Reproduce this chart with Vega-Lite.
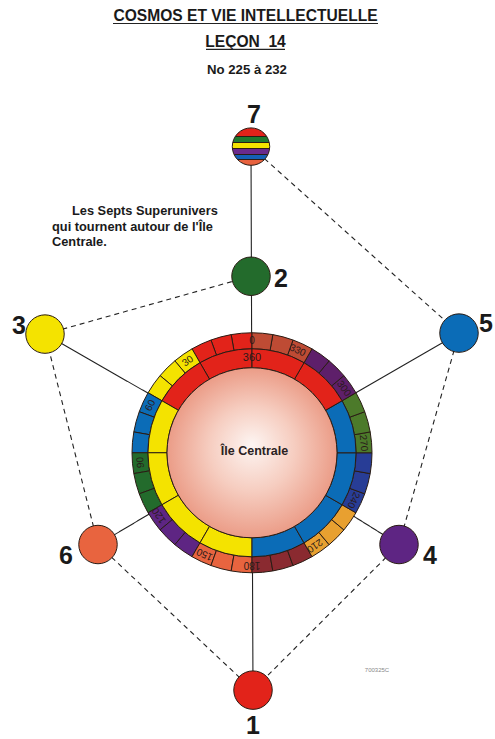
{
  "$schema": "https://vega.github.io/schema/vega-lite/v6.json",
  "width": 495,
  "height": 739,
  "autosize": {"type": "fit", "contains": "padding"},
  "padding": 0,
  "background": "white",
  "config": {"view": {"stroke": null}, "font": "Liberation Sans"},
  "datasets": {
    "edges": [
      {"kind": "tirets", "x": 251, "y": 147, "x2": 459, "y2": 334},
      {"kind": "tirets", "x": 459, "y": 334, "x2": 399, "y2": 546},
      {"kind": "tirets", "x": 399, "y": 546, "x2": 253, "y2": 692},
      {"kind": "tirets", "x": 253, "y": 692, "x2": 98, "y2": 546},
      {"kind": "tirets", "x": 98, "y": 546, "x2": 45, "y2": 335},
      {"kind": "tirets", "x": 45, "y": 335, "x2": 251, "y2": 277},
      {"kind": "plein", "x": 252, "y": 454, "x2": 251, "y2": 147},
      {"kind": "plein", "x": 252, "y": 454, "x2": 45, "y2": 335},
      {"kind": "plein", "x": 252, "y": 454, "x2": 459, "y2": 334},
      {"kind": "plein", "x": 252, "y": 454, "x2": 98, "y2": 546},
      {"kind": "plein", "x": 252, "y": 454, "x2": 399, "y2": 546},
      {"kind": "plein", "x": 252, "y": 454, "x2": 253, "y2": 692},
      {"kind": "plein", "x": 113, "y": 23.5, "x2": 378, "y2": 23.5},
      {"kind": "plein", "x": 206, "y": 49.5, "x2": 285, "y2": 49.5}
    ],
    "outer": [
      {"start": 0, "end": 10, "col": "rouge"}, {"start": 10, "end": 20, "col": "rouge"}, {"start": 20, "end": 30, "col": "rouge"},
      {"start": 30, "end": 40, "col": "jaune"}, {"start": 40, "end": 50, "col": "jaune"}, {"start": 50, "end": 60, "col": "jaune"},
      {"start": 60, "end": 70, "col": "bleu"}, {"start": 70, "end": 80, "col": "bleu"}, {"start": 80, "end": 90, "col": "bleu"},
      {"start": 90, "end": 100, "col": "vert"}, {"start": 100, "end": 110, "col": "vert"}, {"start": 110, "end": 120, "col": "vert"},
      {"start": 120, "end": 130, "col": "violet"}, {"start": 130, "end": 140, "col": "violet"}, {"start": 140, "end": 150, "col": "violet"},
      {"start": 150, "end": 160, "col": "orange"}, {"start": 160, "end": 170, "col": "orange"}, {"start": 170, "end": 180, "col": "orange"},
      {"start": 180, "end": 190, "col": "bordeaux"}, {"start": 190, "end": 200, "col": "bordeaux"}, {"start": 200, "end": 210, "col": "bordeaux"},
      {"start": 210, "end": 220, "col": "ambre"}, {"start": 220, "end": 230, "col": "ambre"}, {"start": 230, "end": 240, "col": "ambre"},
      {"start": 240, "end": 250, "col": "indigo"}, {"start": 250, "end": 260, "col": "indigo"}, {"start": 260, "end": 270, "col": "indigo"},
      {"start": 270, "end": 280, "col": "olive"}, {"start": 280, "end": 290, "col": "olive"}, {"start": 290, "end": 300, "col": "olive"},
      {"start": 300, "end": 310, "col": "pourpre"}, {"start": 310, "end": 320, "col": "pourpre"}, {"start": 320, "end": 330, "col": "pourpre"},
      {"start": 330, "end": 340, "col": "brique"}, {"start": 340, "end": 350, "col": "brique"}, {"start": 350, "end": 360, "col": "brique"}
    ],
    "inner": [
      {"start": 0, "end": 30, "col": "rouge"}, {"start": 30, "end": 60, "col": "rouge"},
      {"start": 60, "end": 90, "col": "jaune"}, {"start": 90, "end": 120, "col": "jaune"},
      {"start": 120, "end": 150, "col": "jaune"}, {"start": 150, "end": 180, "col": "jaune"},
      {"start": 180, "end": 210, "col": "bleu"}, {"start": 210, "end": 240, "col": "bleu"},
      {"start": 240, "end": 270, "col": "bleu"}, {"start": 270, "end": 300, "col": "bleu"},
      {"start": 300, "end": 330, "col": "rouge"}, {"start": 330, "end": 360, "col": "rouge"}
    ],
    "ticks": [
      {"label": "0", "at": 0}, {"label": "30", "at": 35}, {"label": "60", "at": 65},
      {"label": "90", "at": 95}, {"label": "120", "at": 124}, {"label": "150", "at": 155},
      {"label": "180", "at": 180}, {"label": "210", "at": 214}, {"label": "240", "at": 245},
      {"label": "270", "at": 275}, {"label": "300", "at": 305}, {"label": "330", "at": 336}
    ],
    "nodes": [
      {"id": "1", "x": 253, "y": 692, "col": "rouge", "lx": 253, "ly": 736},
      {"id": "2", "x": 251, "y": 277, "col": "vert", "lx": 281, "ly": 288},
      {"id": "3", "x": 45, "y": 335, "col": "jaune", "lx": 19, "ly": 335},
      {"id": "4", "x": 399, "y": 546, "col": "violet", "lx": 430, "ly": 566},
      {"id": "5", "x": 459, "y": 334, "col": "bleu", "lx": 486, "ly": 333},
      {"id": "6", "x": 98, "y": 546, "col": "orange", "lx": 66, "ly": 566},
      {"id": "7", "x": 251, "y": 147, "col": "arc-en-ciel", "lx": 254, "ly": 123}
    ],
    "texts": [
      {"t": "COSMOS ET VIE INTELLECTUELLE", "x": 245.5, "y": 21.5, "role": "titre"},
      {"t": "LEÇON\u00a0\u00a014", "x": 245.5, "y": 47, "role": "titre"},
      {"t": "No 225 à 232", "x": 247, "y": 74, "role": "sous"},
      {"t": "Les Septs Superunivers", "x": 72, "y": 216, "role": "para"},
      {"t": "qui tournent autour de l'Île", "x": 52, "y": 231.5, "role": "para"},
      {"t": "Centrale.", "x": 52, "y": 247, "role": "para"},
      {"t": "Île Centrale", "x": 254.5, "y": 456, "role": "centre"},
      {"t": "700325C", "x": 377, "y": 674, "role": "code"}
    ]
  },
  "layer": [
    {
      "data": {"name": "edges"},
      "mark": {"type": "rule", "color": "#222222", "strokeWidth": 1.1},
      "encoding": {
        "x": {"field": "x", "type": "quantitative", "scale": {"domain": [0, 495], "nice": false, "zero": false}, "axis": null},
        "y": {"field": "y", "type": "quantitative", "scale": {"domain": [0, 739], "nice": false, "zero": false, "reverse": true}, "axis": null},
        "x2": {"field": "x2"},
        "y2": {"field": "y2"},
        "strokeDash": {"field": "kind", "type": "nominal", "scale": {"domain": ["plein", "tirets"], "range": [[1, 0], [5, 4]]}, "legend": null}
      }
    },
    {
      "data": {"name": "outer"},
      "mark": {"type": "arc", "radius": 120, "radius2": 104, "stroke": "#2a1c14", "strokeWidth": 1},
      "encoding": {
        "x": {"datum": 252, "type": "quantitative"},
        "y": {"datum": 454, "type": "quantitative"},
        "theta": {"field": "start", "type": "quantitative", "stack": null, "scale": {"domain": [0, 360], "range": [6.283185307, 0]}},
        "theta2": {"field": "end"},
        "fill": {"field": "col", "type": "nominal", "legend": null,
          "scale": {
            "domain": ["rouge", "jaune", "bleu", "vert", "violet", "orange", "bordeaux", "ambre", "indigo", "olive", "pourpre", "brique", "arc-en-ciel"],
            "range": ["#E2231A", "#F4E300", "#0B6CB7", "#236B2C", "#5E2583", "#E8643F", "#8A2A30", "#E8A030", "#283D96", "#4C7A2A", "#5E1F6A", "#BE4B34", "#E2231A"]
          }}
      }
    },
    {
      "data": {"name": "inner"},
      "mark": {"type": "arc", "radius": 104, "radius2": 85, "stroke": "#2a1c14", "strokeWidth": 1},
      "encoding": {
        "x": {"datum": 252, "type": "quantitative"},
        "y": {"datum": 454, "type": "quantitative"},
        "theta": {"field": "start", "type": "quantitative", "stack": null},
        "theta2": {"field": "end"},
        "fill": {"field": "col", "type": "nominal", "legend": null}
      }
    },
    {
      "data": {"values": [{"name": "Île Centrale"}]},
      "mark": {"type": "point", "shape": "circle", "filled": true, "size": 28900, "opacity": 1, "stroke": "#2a1c14", "strokeWidth": 1,
        "fill": {"gradient": "radial", "x1": 0.5, "y1": 0.45, "r1": 0, "x2": 0.5, "y2": 0.5, "r2": 0.5,
          "stops": [{"offset": 0, "color": "#fdf5f2"}, {"offset": 0.5, "color": "#f6cdc0"}, {"offset": 1, "color": "#eb9c87"}]}},
      "encoding": {
        "x": {"datum": 252, "type": "quantitative"},
        "y": {"datum": 454, "type": "quantitative"}
      }
    },
    {
      "data": {"name": "ticks"},
      "mark": {"type": "text", "radius": 112, "fontSize": 10, "color": "#2a1a1a", "align": "center", "baseline": "middle"},
      "encoding": {
        "x": {"datum": 252, "type": "quantitative"},
        "y": {"datum": 454, "type": "quantitative"},
        "theta": {"field": "at", "type": "quantitative", "stack": null},
        "angle": {"field": "at", "type": "quantitative", "scale": {"domain": [0, 360], "range": [360, 0]}},
        "text": {"field": "label"}
      }
    },
    {
      "data": {"values": [{"label": "360", "at": 0}]},
      "mark": {"type": "text", "radius": 95, "fontSize": 11, "color": "#2a1a1a", "align": "center", "baseline": "middle"},
      "encoding": {
        "x": {"datum": 252, "type": "quantitative"},
        "y": {"datum": 454, "type": "quantitative"},
        "theta": {"field": "at", "type": "quantitative", "stack": null},
        "text": {"field": "label"}
      }
    },
    {
      "data": {"name": "nodes"},
      "transform": [{"filter": "datum.id != '7'"}],
      "mark": {"type": "point", "shape": "circle", "filled": true, "size": 1480, "opacity": 1, "stroke": "#2a1c14", "strokeWidth": 1},
      "encoding": {
        "x": {"field": "x", "type": "quantitative"},
        "y": {"field": "y", "type": "quantitative"},
        "fill": {"field": "col", "type": "nominal", "legend": null}
      }
    },
    {
      "data": {"name": "nodes"},
      "transform": [{"filter": "datum.id == '7'"}],
      "mark": {"type": "point", "shape": "circle", "filled": true, "size": 1400, "opacity": 1, "stroke": "#2a1c14", "strokeWidth": 1,
        "fill": {"gradient": "linear", "x1": 0, "y1": 0, "x2": 0, "y2": 1,
          "stops": [
            {"offset": 0, "color": "#E2231A"}, {"offset": 0.23, "color": "#E2231A"},
            {"offset": 0.23, "color": "#2a1c14"}, {"offset": 0.25, "color": "#2a1c14"},
            {"offset": 0.25, "color": "#1F7A2E"}, {"offset": 0.39, "color": "#1F7A2E"},
            {"offset": 0.39, "color": "#2a1c14"}, {"offset": 0.41, "color": "#2a1c14"},
            {"offset": 0.41, "color": "#F4E300"}, {"offset": 0.55, "color": "#F4E300"},
            {"offset": 0.55, "color": "#2a1c14"}, {"offset": 0.57, "color": "#2a1c14"},
            {"offset": 0.57, "color": "#6A2A8C"}, {"offset": 0.70, "color": "#6A2A8C"},
            {"offset": 0.70, "color": "#2a1c14"}, {"offset": 0.72, "color": "#2a1c14"},
            {"offset": 0.72, "color": "#1560B5"}, {"offset": 0.84, "color": "#1560B5"},
            {"offset": 0.84, "color": "#2a1c14"}, {"offset": 0.86, "color": "#2a1c14"},
            {"offset": 0.86, "color": "#E8623E"}, {"offset": 1, "color": "#E8623E"}
          ]}},
      "encoding": {
        "x": {"field": "x", "type": "quantitative"},
        "y": {"field": "y", "type": "quantitative"}
      }
    },
    {
      "data": {"name": "nodes"},
      "mark": {"type": "text", "fontSize": 25, "fontWeight": "bold", "color": "#1a1a1a", "align": "center", "baseline": "alphabetic"},
      "encoding": {
        "x": {"field": "lx", "type": "quantitative"},
        "y": {"field": "ly", "type": "quantitative"},
        "text": {"field": "id"}
      }
    },
    {
      "data": {"name": "texts"},
      "transform": [{"filter": "datum.role == 'titre'"}],
      "mark": {"type": "text", "fontSize": 15.6, "fontWeight": "bold", "color": "#1a1a1a", "align": "center", "baseline": "alphabetic"},
      "encoding": {
        "x": {"field": "x", "type": "quantitative"},
        "y": {"field": "y", "type": "quantitative"},
        "text": {"field": "t"}
      }
    },
    {
      "data": {"name": "texts"},
      "transform": [{"filter": "datum.role == 'sous'"}],
      "mark": {"type": "text", "fontSize": 13.2, "fontWeight": "bold", "color": "#1a1a1a", "align": "center", "baseline": "alphabetic"},
      "encoding": {
        "x": {"field": "x", "type": "quantitative"},
        "y": {"field": "y", "type": "quantitative"},
        "text": {"field": "t"}
      }
    },
    {
      "data": {"name": "texts"},
      "transform": [{"filter": "datum.role == 'para'"}],
      "mark": {"type": "text", "fontSize": 12.8, "fontWeight": "bold", "color": "#1a1a1a", "align": "left", "baseline": "alphabetic"},
      "encoding": {
        "x": {"field": "x", "type": "quantitative"},
        "y": {"field": "y", "type": "quantitative"},
        "text": {"field": "t"}
      }
    },
    {
      "data": {"name": "texts"},
      "transform": [{"filter": "datum.role == 'centre'"}],
      "mark": {"type": "text", "fontSize": 12.5, "fontWeight": "bold", "color": "#2a2222", "align": "center", "baseline": "alphabetic"},
      "encoding": {
        "x": {"field": "x", "type": "quantitative"},
        "y": {"field": "y", "type": "quantitative"},
        "text": {"field": "t"}
      }
    },
    {
      "data": {"name": "texts"},
      "transform": [{"filter": "datum.role == 'code'"}],
      "mark": {"type": "text", "fontSize": 6, "color": "#888888", "align": "center", "baseline": "alphabetic"},
      "encoding": {
        "x": {"field": "x", "type": "quantitative"},
        "y": {"field": "y", "type": "quantitative"},
        "text": {"field": "t"}
      }
    }
  ]
}
